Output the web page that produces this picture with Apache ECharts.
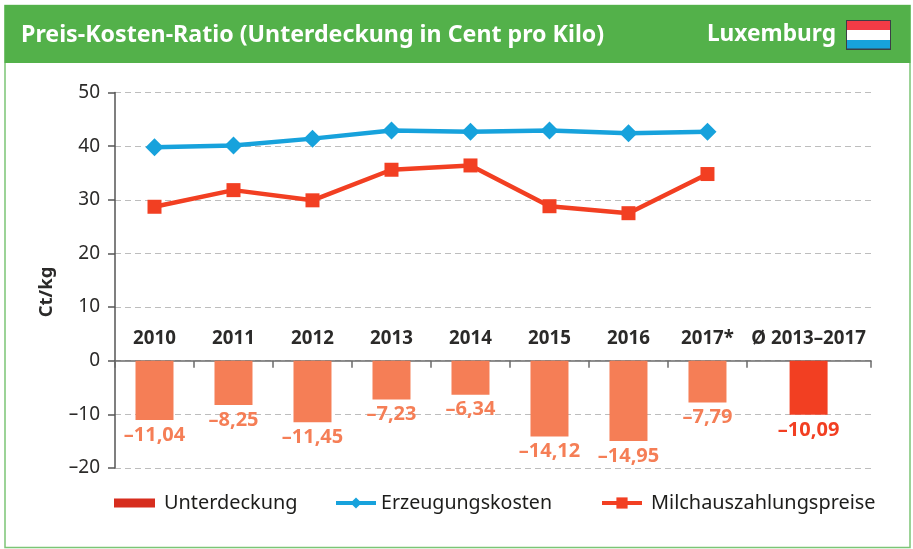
<!DOCTYPE html>
<html>
<head>
<meta charset="utf-8">
<script src="https://cdn.jsdelivr.net/npm/echarts@6/dist/echarts.min.js"></script>
<style>
  html, body { margin: 0; padding: 0; background: #fff; }
  #chart { width: 913px; height: 549px; }
</style>
</head>
<body>
<div id="chart"></div>
<script>
const categories = ['2010', '2011', '2012', '2013', '2014', '2015', '2016', '2017*', 'Ø 2013–2017'];
// x axis runs in "year slots", the average slot at the end is wider
const xPositions = [0.5, 1.5, 2.5, 3.5, 4.5, 5.5, 6.5, 7.5, 8.78];
const tickPositions = [0, 1, 2, 3, 4, 5, 6, 7, 8, 9.57];
const gap = [-11.04, -8.25, -11.45, -7.23, -6.34, -14.12, -14.95, -7.79, -10.09];
const costs = [39.8, 40.1, 41.4, 42.9, 42.7, 42.9, 42.4, 42.7];
const prices = [28.7, 31.8, 29.9, 35.6, 36.4, 28.8, 27.5, 34.8];

const GREEN = '#53b14a', BLUE = '#17a2dc', RED = '#f23f22', SALMON = '#f57e56', DARK_RED = '#d72d1e';
const FONT = 'Noto Sans';

const deNum = v => v.toFixed(2).replace('.', ',').replace('-', '–');
const pairs = (ys) => ys.map((y, i) => [xPositions[i], y]);

const chart = echarts.init(document.getElementById('chart'), null, { renderer: 'canvas' });

chart.setOption({
  animation: false,
  backgroundColor: '#fff',
  textStyle: { fontFamily: FONT },
  title: [
    { text: 'Preis-Kosten-Ratio (Unterdeckung in Cent pro Kilo)', left: 16, top: 18.5,
      textStyle: { color: '#fff', fontSize: 23.2, fontWeight: 'bold', fontFamily: FONT } },
    { text: 'Luxemburg', right: 72, top: 18.5,
      textStyle: { color: '#fff', fontSize: 22.7, fontWeight: 'bold', fontFamily: FONT } }
  ],
  graphic: [
    { type: 'rect', z: -1, silent: true, shape: { x: 5, y: 5.5, width: 905, height: 542 },
      style: { fill: '#fff', stroke: '#7cc576', lineWidth: 1.5 } },
    { type: 'rect', z: -1, silent: true, shape: { x: 4.5, y: 5, width: 906, height: 58 },
      style: { fill: GREEN } },
    { type: 'rect', silent: true, shape: { x: 846, y: 20, width: 45, height: 30 }, style: { fill: '#3b3f45' } },
    { type: 'rect', silent: true, shape: { x: 847, y: 21, width: 43, height: 9 }, style: { fill: '#f33b46' } },
    { type: 'rect', silent: true, shape: { x: 847, y: 30, width: 43, height: 10 }, style: { fill: '#fff' } },
    { type: 'rect', silent: true, shape: { x: 847, y: 40, width: 43, height: 8.5 }, style: { fill: BLUE } },
    { type: 'text', silent: true, rotation: Math.PI / 2, x: 47, y: 292,
      style: { text: 'Ct/kg', fill: '#2b2a29', fontSize: 18.5, fontWeight: 'bold', fontFamily: FONT,
        align: 'center', verticalAlign: 'middle' } }
  ],
  legend: [
    { data: [{ name: 'Unterdeckung', icon: 'rect' }], left: 109, top: 488, itemWidth: 41, itemHeight: 9, itemGap: 0,
      textStyle: { fontSize: 19.9, color: '#1d1d1b', fontFamily: FONT, padding: [0, 0, 0, 4] } },
    { data: ['Erzeugungskosten'], left: 329, top: 488, itemWidth: 40, itemHeight: 14, itemGap: 0,
      lineStyle: { width: 4 },
      textStyle: { fontSize: 19.6, color: '#1d1d1b', fontFamily: FONT } },
    { data: ['Milchauszahlungspreise'], left: 595, top: 488, itemWidth: 40, itemHeight: 14, itemGap: 0,
      lineStyle: { width: 4 },
      textStyle: { fontSize: 19.9, color: '#1d1d1b', fontFamily: FONT, padding: [0, 0, 0, 4] } }
  ],
  grid: { left: 115, right: 42, top: 92.5, height: 375.5, containLabel: false },
  xAxis: {
    type: 'value', position: 'top', min: 0, max: 9.57,
    axisLine: { onZero: true, lineStyle: { color: '#6b6b6b', width: 1.5 } },
    axisTick: { show: true, inside: true, length: 7, customValues: tickPositions, lineStyle: { color: '#6b6b6b', width: 1.5 } },
    axisLabel: {
      // labels stay on the grid edge, pull them down to sit just above the zero line
      margin: -256,
      customValues: xPositions,
      color: '#2b2a29', fontSize: 18.7, fontWeight: 'bold', fontFamily: FONT,
      formatter: v => categories[xPositions.indexOf(v)]
    },
    splitLine: { show: false }
  },
  yAxis: {
    type: 'value', min: -20, max: 50, interval: 10,
    axisLine: { show: true, onZero: false, lineStyle: { color: '#555', width: 1.5 } },
    axisTick: { show: true, length: 7, lineStyle: { color: '#555', width: 1.5 } },
    axisLabel: { color: '#2b2a29', fontSize: 19, margin: 15, fontFamily: FONT,
      formatter: v => String(v).replace('-', '–') },
    splitLine: { show: true, lineStyle: { color: '#bdbdbd', type: [6, 4], width: 1.2 } }
  },
  series: [
    {
      name: 'Unterdeckung', type: 'bar', barWidth: 38,
      itemStyle: { color: DARK_RED },
      data: pairs(gap).map((p, i) => ({
        value: p,
        itemStyle: { color: i === 8 ? RED : SALMON },
        label: { color: i === 8 ? RED : SALMON }
      })),
      label: {
        show: true, position: 'bottom', distance: 5, fontSize: 20, fontWeight: 'bold', fontFamily: FONT,
        formatter: p => deNum(p.value[1])
      }
    },
    {
      name: 'Erzeugungskosten', type: 'line', data: pairs(costs),
      symbol: 'diamond', symbolSize: 18,
      lineStyle: { color: BLUE, width: 4.5 }, itemStyle: { color: BLUE }
    },
    {
      name: 'Milchauszahlungspreise', type: 'line', data: pairs(prices),
      symbol: 'rect', symbolSize: 14,
      lineStyle: { color: RED, width: 4.5 }, itemStyle: { color: RED }
    }
  ]
});
</script>
</body>
</html>
